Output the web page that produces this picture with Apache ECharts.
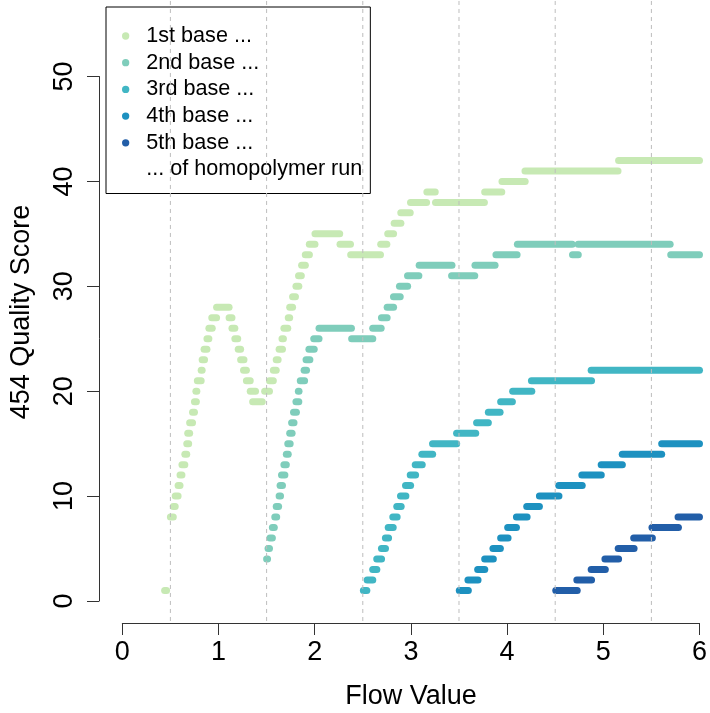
<!DOCTYPE html>
<html>
<head>
<meta charset="utf-8">
<script src="https://cdn.jsdelivr.net/npm/echarts@6/dist/echarts.min.js"></script>
<style>
html,body{margin:0;padding:0;background:#fff;}
#chart{width:710px;height:713px;}
</style>
</head>
<body>
<div id="chart"></div>
<script>
// Legend labels
const seriesNames = ['1st base ...', '2nd base ...', '3rd base ...', '4th base ...', '5th base ...'];
const legendNote = '... of homopolymer run';
const seriesColors = ['#c7e9b4', '#7fcdbb', '#41b6c4', '#1d91c0', '#225ea8'];

// Runs of points: [flow start, flow end, quality score]
const base1 = [
  [0.44,0.46,1],[0.50,0.53,8],[0.53,0.55,9],[0.55,0.58,10],[0.58,0.60,11],[0.60,0.62,12],
  [0.62,0.65,13],[0.65,0.67,14],[0.67,0.69,15],[0.68,0.70,16],[0.70,0.73,17],[0.73,0.75,18],
  [0.75,0.77,19],[0.765,0.775,20],[0.78,0.82,21],[0.82,0.83,22],[0.83,0.855,23],[0.85,0.88,24],
  [0.88,0.90,25],[0.90,0.935,26],[0.93,0.98,27],[0.98,1.11,28],[1.11,1.14,27],[1.14,1.17,26],
  [1.17,1.20,25],[1.205,1.23,24],[1.23,1.265,23],[1.26,1.29,22],[1.29,1.33,21],[1.33,1.385,20],
  [1.355,1.455,19],[1.48,1.53,20],[1.53,1.57,21],[1.57,1.60,22],[1.60,1.62,23],[1.63,1.665,24],
  [1.66,1.675,25],[1.68,1.72,26],[1.725,1.74,27],[1.74,1.77,28],[1.77,1.80,29],[1.805,1.835,30],
  [1.832,1.861,31],[1.864,1.903,32],[1.902,1.945,33],[1.944,2.003,34],[2.003,2.26,35],[2.263,2.372,34],
  [2.374,2.684,33],[2.686,2.75,34],[2.759,2.82,35],[2.826,2.896,36],[2.895,2.993,37],[2.996,3.163,38],
  [3.166,3.253,39],[3.256,3.764,38],[3.767,3.945,39],[3.947,4.188,40],[4.186,5.153,41],[5.159,6.0,42]
];
const base2 = [
  [1.50,1.51,4],[1.515,1.53,5],[1.535,1.56,6],[1.56,1.58,7],[1.585,1.605,8],[1.60,1.625,9],
  [1.63,1.645,10],[1.64,1.665,11],[1.655,1.69,12],[1.68,1.705,13],[1.705,1.725,14],[1.72,1.745,15],
  [1.74,1.765,16],[1.76,1.785,17],[1.78,1.81,18],[1.805,1.835,19],[1.83,1.837,20],[1.85,1.895,21],
  [1.89,1.915,22],[1.91,1.95,23],[1.94,1.995,24],[1.99,2.045,25],[2.045,2.382,26],[2.384,2.604,25],
  [2.603,2.691,26],[2.694,2.753,27],[2.753,2.82,28],[2.819,2.889,29],[2.881,2.966,30],[2.965,3.083,31],
  [3.086,3.427,32],[3.423,3.664,31],[3.666,3.875,32],[3.884,4.104,33],[4.107,4.677,34],[4.68,4.74,33],
  [4.739,5.695,34],[5.701,6.0,33]
];
const base3 = [
  [2.506,2.542,1],[2.545,2.604,2],[2.603,2.646,3],[2.645,2.695,4],[2.694,2.736,5],[2.735,2.768,6],
  [2.764,2.816,7],[2.812,2.857,8],[2.853,2.899,9],[2.892,2.948,10],[2.944,2.997,11],[2.993,3.049,12],
  [3.045,3.118,13],[3.114,3.226,14],[3.225,3.476,15],[3.475,3.674,16],[3.683,3.805,17],[3.805,3.927,18],
  [3.933,4.055,19],[4.058,4.257,20],[4.253,4.878,21],[4.874,6.0,22]
];
const base4 = [
  [3.503,3.597,1],[3.593,3.698,2],[3.694,3.768,3],[3.767,3.857,4],[3.853,3.930,5],[3.933,4.010,6],
  [4.006,4.097,7],[4.097,4.208,8],[4.204,4.336,9],[4.336,4.539,10],[4.537,4.781,11],[4.777,4.979,12],
  [4.978,5.198,13],[5.197,5.607,14],[5.607,6.0,15]
];
const base5 = [
  [4.506,4.729,1],[4.725,4.878,2],[4.874,5.021,3],[5.017,5.159,4],[5.155,5.320,5],[5.316,5.51,6],
  [5.506,5.781,7],[5.777,6.0,8]
];
const allRuns = [base1, base2, base3, base4, base5];

// Vertical reference lines (flow values)
const guideFlows = [0.5, 1.5, 2.5, 3.5, 4.5, 5.5];
// Axis ticks
const xTicks = [0, 1, 2, 3, 4, 5, 6];
const yTicks = [0, 10, 20, 30, 40, 50];
// Plot region limits (R-style padded range) used for the guide lines
const plotYLim = [-2.2, 57.2];

const FONT = '"Liberation Sans", Arial, Helvetica, sans-serif';
const DOT = 7;

function runRender(params, api) {
  const p0 = api.coord([api.value(0), api.value(2)]);
  const p1 = api.coord([api.value(1), api.value(2)]);
  return {
    type: 'rect',
    shape: { x: p0[0] - DOT / 2, y: p0[1] - DOT / 2, width: p1[0] - p0[0] + DOT, height: DOT, r: DOT / 2 },
    style: { fill: api.visual('color') }
  };
}

function guideRender(params, api) {
  const top = api.coord([api.value(0), plotYLim[1]]);
  const bot = api.coord([api.value(0), plotYLim[0]]);
  return {
    type: 'line',
    shape: { x1: top[0], y1: top[1], x2: bot[0], y2: bot[1] },
    style: { stroke: '#bdbdbd', lineWidth: 1, lineDash: [4, 4] }
  };
}

const series = allRuns.map((runs, i) => ({
  name: seriesNames[i],
  type: 'custom',
  renderItem: runRender,
  data: runs,
  encode: { x: [0, 1], y: 2 },
  itemStyle: { color: seriesColors[i] },
  clip: false,
  z: 2,
  silent: true
}));
series.push({
  name: legendNote,
  type: 'custom',
  renderItem: () => null,
  data: [],
  itemStyle: { color: 'rgba(0,0,0,0)' }
});
series.push({
  name: 'guides',
  type: 'custom',
  renderItem: guideRender,
  data: guideFlows.map(v => [v]),
  encode: { x: 0 },
  clip: false,
  z: 5,
  silent: true
});

const chart = echarts.init(document.getElementById('chart'), null, { renderer: 'canvas' });
chart.setOption({
  animation: false,
  backgroundColor: '#ffffff',
  grid: { left: 122.3, right: 10.2, top: 76.5, bottom: 112, containLabel: false },
  xAxis: {
    type: 'value', min: xTicks[0], max: xTicks[xTicks.length - 1], interval: 1,
    offset: 22,
    axisLine: { show: true, onZero: false, lineStyle: { color: '#333', width: 1 } },
    axisTick: { show: true, length: 12, lineStyle: { color: '#333' } },
    axisLabel: { fontSize: 27, color: '#000', fontFamily: FONT, margin: 16 },
    splitLine: { show: false }
  },
  yAxis: {
    type: 'value', min: yTicks[0], max: yTicks[yTicks.length - 1], interval: 10,
    offset: 23.3,
    axisLine: { show: true, onZero: false, lineStyle: { color: '#333', width: 1 } },
    axisTick: { show: true, length: 12, lineStyle: { color: '#333' } },
    axisLabel: { fontSize: 27, color: '#000', fontFamily: FONT, rotate: 90, margin: 21 },
    splitLine: { show: false }
  },
  legend: {
    orient: 'vertical',
    left: 106, top: 7,
    padding: [18, 8, 13, 16],
    borderColor: '#000', borderWidth: 1,
    itemWidth: 7.3, itemHeight: 7.3, itemGap: 4.7,
    selectedMode: false,
    icon: 'circle',
    textStyle: { fontSize: 21.6, lineHeight: 22, color: '#000', fontFamily: FONT, padding: [0, 0, 0, 12] },
    data: seriesNames.map((n, i) => ({ name: n, itemStyle: { color: seriesColors[i] } }))
      .concat([{ name: legendNote, itemStyle: { color: 'rgba(0,0,0,0)', opacity: 0 } }])
  },
  graphic: [
    { type: 'text', id: 'xt', x: 411, y: 697, style: { text: 'Flow Value', fontSize: 27, fontFamily: FONT, fill: '#000', align: 'center', verticalAlign: 'middle' } },
    { type: 'text', id: 'yt', x: 22, y: 312, rotation: Math.PI / 2, style: { text: '454 Quality Score', fontSize: 27, fontFamily: FONT, fill: '#000', align: 'center', verticalAlign: 'middle' } }
  ],
  series: series
});
</script>
</body>
</html>
